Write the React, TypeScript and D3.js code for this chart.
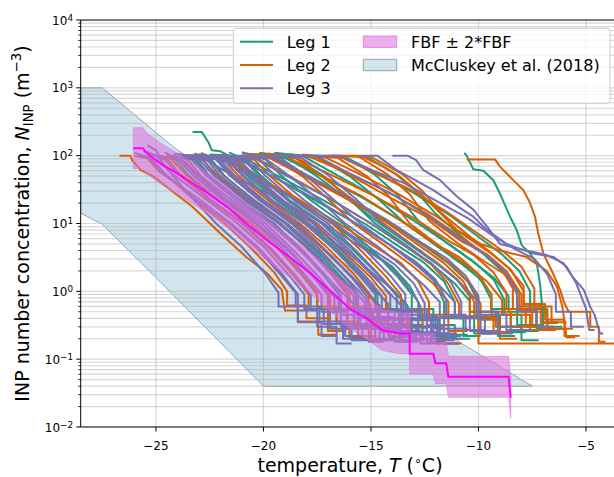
import React from "react";
import * as d3 from "d3";

type Pt = [number, number];

// ---------- axis ticks ----------
const xTickValues = [-25, -20, -15, -10, -5];
const yDecades = [-2, -1, 0, 1, 2, 3, 4];

// ---------- McCluskey et al. (2018) envelope (T, N) ----------
const mccluskeyBand: Pt[] = [
  [-28.5, 1000], [-27.5, 1000], [-24.2, 135], [-10.72, 0.166], [-7.5, 0.04],
  [-20.0, 0.04], [-24.8, 1.38], [-27.5, 9.8], [-28.5, 14.2],
];

// ---------- FBF mean spectrum ----------
const fbfTemps = [-26.05, -25.6, -25.5, -24.8, -23.9, -22.8, -21.7, -20.8, -19.85, -18.6, -17.68, -16.75, -16.0, -15.2, -14.5, -13.65, -13.2, -13.2, -12.1, -12.0, -11.5, -11.4, -8.6, -8.5];
const fbfValues = [129, 129, 114, 77, 52, 31, 17.6, 10, 5.7, 2.9, 1.7, 0.93, 0.56, 0.4, 0.27, 0.24, 0.24, 0.12, 0.12, 0.087, 0.087, 0.055, 0.055, 0.027];

// ---------- Leg 1 spectra ----------
const leg1Curves: Pt[][] = [
  [[-24.8,100],[-24.1,88],[-23.5,52],[-22.1,22],[-20.6,10],[-19.3,4.2],[-18.2,1.7],[-17.5,0.9],[-17.5,0.55],[-16.6,0.55],[-16.6,0.33],[-15.6,0.33],[-15.6,0.2],[-14.9,0.2]],
  [[-23.2,108],[-22.4,86],[-21.8,50],[-20.4,21],[-18.9,10],[-17.6,4.1],[-16.4,1.65],[-15.7,0.9],[-15.7,0.5],[-14.7,0.5],[-14.7,0.3],[-13.7,0.3],[-13.7,0.19],[-13.0,0.19]],
  [[-22.2,100],[-21.5,88],[-20.8,52],[-19.4,22],[-17.9,10],[-16.6,4.2],[-15.4,1.7],[-14.7,0.9],[-14.7,0.55],[-13.7,0.55],[-13.7,0.32],[-12.6,0.32],[-12.6,0.2],[-11.9,0.2]],
  [[-23.9,95],[-23.2,88],[-22.6,52],[-21.1,22],[-19.6,10],[-18.3,4.2],[-17.2,1.7],[-16.5,0.9],[-16.5,0.55],[-15.6,0.55],[-15.6,0.33],[-14.6,0.33],[-14.6,0.2],[-13.9,0.2]],
  [[-20.6,100],[-19.9,88],[-19.2,52],[-17.8,22],[-16.3,10],[-15.0,4.2],[-13.8,1.7],[-13.1,0.9],[-13.1,0.55],[-12.1,0.55],[-12.1,0.32],[-11.1,0.32],[-11.1,0.2],[-10.4,0.2]],
  [[-21.6,112],[-20.8,86],[-20.1,50],[-18.7,21],[-17.2,10],[-15.9,4.3],[-14.7,1.8],[-13.9,1.0],[-13.3,0.62],[-13.3,0.38],[-11.9,0.38],[-11.9,0.23],[-10.5,0.23]],
  [[-23.3,224],[-22.87,224],[-22.56,158],[-22.4,120],[-22.0,116],[-21.5,95],[-20.3,50],[-18.5,22],[-16.8,10],[-15.2,4.3],[-14.0,2.3],[-13.2,1.2],[-12.7,0.6],[-12.7,0.38],[-11.8,0.38],[-11.8,0.21],[-11.0,0.21]],
  [[-22.5,104],[-21.5,100],[-19.6,50],[-17.6,22],[-15.7,10],[-14.2,5],[-13.0,2.8],[-12.1,1.5],[-11.6,0.7],[-11.6,0.4],[-10.7,0.4],[-10.7,0.22],[-9.9,0.22]],
  [[-21.0,100],[-19.5,96],[-17.9,50],[-16.0,23],[-14.1,10],[-12.5,4.6],[-11.4,2.6],[-10.5,1.4],[-10.0,0.7],[-10.0,0.4],[-9.1,0.4],[-9.1,0.22],[-8.3,0.22]],
  [[-19.5,110],[-18.2,100],[-16.6,52],[-14.7,24],[-12.9,10.5],[-11.3,4.8],[-10.2,2.7],[-9.3,1.5],[-8.8,0.75],[-8.8,0.45],[-8.0,0.45],[-8.0,0.26],[-7.2,0.26]],
  [[-22.0,100],[-20.9,92],[-19.2,48],[-17.2,22],[-15.3,10],[-13.7,4.6],[-12.5,2.6],[-11.6,1.4],[-11.1,0.7],[-11.1,0.42],[-10.2,0.42],[-10.2,0.24],[-9.4,0.24]],
  [[-20.5,100],[-19.0,92],[-17.3,50],[-15.4,24],[-13.5,10.5],[-11.9,4.8],[-10.8,2.7],[-9.9,1.5],[-9.4,0.75],[-9.4,0.45],[-8.5,0.45],[-8.5,0.26],[-7.7,0.26]],
  [[-19.8,100],[-18.5,92],[-17.2,50],[-16.0,23],[-14.8,10],[-13.3,4.6],[-12.1,2.4],[-11.1,1.3],[-10.4,0.72],[-10.4,0.43],[-9.0,0.43],[-9.0,0.25],[-7.8,0.25]],
  [[-18.8,105],[-17.5,95],[-16.0,50],[-14.6,22],[-13.4,10],[-12.0,4.8],[-10.9,2.7],[-10.0,1.6],[-9.4,0.9],[-9.4,0.55],[-8.2,0.55],[-8.2,0.32],[-7.0,0.32]],
  [[-20.2,110],[-19.0,98],[-17.6,52],[-16.0,22],[-14.5,9.5],[-13.0,4.4],[-11.9,2.5],[-11.0,1.5],[-10.4,0.85],[-10.4,0.5],[-9.1,0.5],[-9.1,0.3],[-8.0,0.3],[-8.0,0.19],[-7.2,0.19]],
  [[-17.6,100],[-16.2,96],[-14.8,52],[-13.8,27],[-12.8,11],[-11.4,5],[-10.3,2.8],[-9.3,1.6],[-8.6,0.85],[-8.6,0.5],[-7.3,0.5],[-7.3,0.28],[-6.0,0.28]],
  [[-16.5,100],[-15.2,96],[-13.9,55],[-12.9,30],[-12.0,14],[-10.8,6.5],[-9.8,3.6],[-8.9,2.0],[-8.2,1.1],[-8.2,0.6],[-7.0,0.6],[-7.0,0.35],[-6.3,0.35]],
  [[-17.5,95],[-16.2,95],[-14.7,55],[-13.0,28],[-11.3,13],[-9.9,6.0],[-8.9,3.5],[-8.1,2.0],[-7.6,1.0],[-7.6,0.55],[-6.8,0.55],[-6.8,0.3],[-6.1,0.3]],
  [[-10.66,110],[-10.55,100],[-10.24,63],[-9.77,60],[-9.3,43],[-9.0,27.5],[-8.53,12.6],[-8.22,8],[-7.99,4.8],[-7.6,3.6],[-7.29,2.6],[-7.14,1.3],[-7.05,0.66],[-6.98,0.27],[-6.6,0.27]],
];

// ---------- Leg 2 spectra ----------
const leg2Curves: Pt[][] = [
  [[-26.7,100],[-26.2,100],[-26.1,85],[-25.7,61],[-25.1,49],[-24.3,31],[-23.3,17.7],[-22.0,7.1],[-20.8,3.2],[-20.2,2.3],[-19.8,1.8],[-19.15,1.05],[-19.0,0.52],[-18.4,0.52],[-18.4,0.36],[-17.45,0.36],[-17.45,0.23],[-16.6,0.23]],
  [[-26.0,100],[-25.4,92],[-24.9,60],[-24.2,42],[-23.2,22],[-21.8,10],[-20.6,4.4],[-19.5,1.9],[-18.9,1.0],[-18.9,0.62],[-18.0,0.62],[-18.0,0.4],[-17.0,0.4],[-17.0,0.26],[-16.2,0.26]],
  [[-25.2,105],[-24.6,88],[-24.0,55],[-22.5,22],[-21.0,10],[-19.7,4.2],[-18.6,1.7],[-17.9,0.9],[-17.9,0.55],[-17.0,0.55],[-17.0,0.33],[-16.0,0.33],[-16.0,0.21],[-15.3,0.21]],
  [[-24.4,100],[-23.6,80],[-23.0,50],[-21.6,21],[-20.1,10],[-18.8,4.0],[-17.6,1.6],[-16.9,0.85],[-16.9,0.5],[-16.1,0.5],[-16.1,0.3],[-15.0,0.3],[-15.0,0.19],[-14.3,0.19]],
  [[-23.6,100],[-22.8,85],[-22.1,50],[-20.6,21],[-19.2,10],[-17.9,4.1],[-16.7,1.7],[-16.0,0.9],[-16.0,0.6],[-15.1,0.6],[-15.1,0.36],[-14.2,0.36],[-14.2,0.22],[-13.4,0.22]],
  [[-22.6,96],[-21.9,90],[-21.2,52],[-19.8,22],[-18.3,10],[-17.0,4.3],[-15.8,1.8],[-15.1,0.95],[-15.1,0.55],[-14.2,0.55],[-14.2,0.33],[-13.1,0.33],[-13.1,0.2],[-12.5,0.2]],
  [[-22.0,100],[-21.2,85],[-20.5,48],[-19.1,21],[-17.6,10],[-16.3,4.0],[-15.0,1.6],[-14.3,0.85],[-14.3,0.5],[-13.3,0.5],[-13.3,0.3],[-12.2,0.3],[-12.2,0.18],[-11.6,0.18]],
  [[-25.0,100],[-24.3,90],[-23.6,52],[-22.1,22],[-20.6,10],[-19.3,4.3],[-18.2,1.8],[-17.5,0.95],[-17.5,0.6],[-16.6,0.6],[-16.6,0.36],[-15.6,0.36],[-15.6,0.22],[-14.8,0.22]],
  [[-23.0,106],[-22.2,88],[-21.5,52],[-20.1,22],[-18.6,10],[-17.3,4.4],[-16.1,1.9],[-15.3,1.05],[-14.7,0.62],[-14.7,0.38],[-13.3,0.38],[-13.3,0.24],[-11.9,0.24],[-11.9,0.17],[-10.8,0.17]],
  [[-21.2,100],[-20.4,86],[-19.7,50],[-18.3,21],[-16.8,10],[-15.5,4.1],[-14.3,1.65],[-13.6,0.88],[-13.6,0.52],[-12.6,0.52],[-12.6,0.3],[-11.6,0.3],[-11.6,0.17],[-10.9,0.17]],
  [[-23.5,100],[-22.0,100],[-20.5,52],[-18.5,24],[-16.5,10],[-14.8,4.5],[-13.6,2.6],[-12.8,1.4],[-12.3,0.7],[-12.3,0.45],[-11.4,0.45],[-11.4,0.26],[-10.5,0.26]],
  [[-22.3,100],[-20.5,98],[-18.8,50],[-17.0,24],[-15.0,10],[-13.3,4.4],[-12.2,2.5],[-11.4,1.3],[-10.9,0.65],[-10.9,0.4],[-10.0,0.4],[-10.0,0.17],[-3.0,0.17]],
  [[-20.5,100],[-19.4,90],[-18.2,50],[-17.0,23],[-15.8,10],[-14.3,4.6],[-13.1,2.4],[-12.1,1.3],[-11.4,0.7],[-11.4,0.43],[-10.0,0.43],[-10.0,0.25],[-8.6,0.25]],
  [[-21.0,108],[-19.0,100],[-17.5,55],[-15.5,26],[-13.6,11],[-12.0,5.0],[-10.9,3.2],[-10.0,1.8],[-9.4,0.9],[-9.4,0.5],[-8.5,0.5],[-8.5,0.3],[-7.6,0.3]],
  [[-19.5,100],[-17.6,96],[-16.0,52],[-14.2,25],[-12.3,12],[-10.8,5.5],[-9.6,3.5],[-8.7,2.0],[-8.1,1.0],[-8.1,0.55],[-7.3,0.55],[-7.3,0.3],[-6.5,0.3]],
  [[-17.0,100],[-15.5,100],[-14.43,69],[-13.65,49],[-12.56,25],[-11.6,12.6],[-11.0,8],[-9.9,5],[-9.0,4],[-7.76,3.2],[-6.83,2],[-6.36,1.2],[-6.1,0.6],[-5.9,0.21],[-5.5,0.21]],
  [[-20.0,100],[-18.7,100],[-17.0,55],[-15.0,27],[-13.0,12],[-11.4,5.6],[-10.2,3.4],[-9.3,1.9],[-8.7,0.95],[-8.7,0.55],[-7.8,0.55],[-7.8,0.3],[-7.0,0.3]],
  [[-21.5,94],[-19.8,95],[-18.0,48],[-16.0,22],[-14.2,10],[-12.7,4.6],[-11.6,2.6],[-10.7,1.4],[-10.2,0.7],[-10.2,0.42],[-9.3,0.42],[-9.3,0.25],[-8.5,0.25]],
  [[-18.5,100],[-17.2,97],[-15.6,55],[-13.8,28],[-12.0,13],[-10.5,6.2],[-9.4,3.6],[-8.5,2.1],[-7.9,1.0],[-7.9,0.6],[-7.1,0.6],[-7.1,0.34],[-6.3,0.34]],
  [[-20.8,100],[-19.5,90],[-17.7,45],[-15.7,20],[-13.8,9],[-12.3,4.3],[-11.2,2.4],[-10.4,1.3],[-9.9,0.65],[-9.9,0.38],[-9.0,0.38],[-9.0,0.2],[-8.2,0.2]],
  [[-19.8,108],[-18.6,96],[-17.3,50],[-15.8,22],[-14.4,10],[-13.0,4.6],[-11.9,2.6],[-11.0,1.5],[-10.4,0.85],[-10.4,0.5],[-9.2,0.5],[-9.2,0.3],[-8.0,0.3]],
  [[-17.8,100],[-16.3,92],[-14.8,55],[-13.2,32],[-11.5,15],[-10.0,7],[-8.9,4],[-8.0,2.3],[-7.4,1.1],[-7.4,0.6],[-6.6,0.6],[-6.6,0.35],[-5.9,0.35]],
  [[-19.2,100],[-18.0,100],[-16.3,60],[-14.3,30],[-12.4,14],[-10.9,6.5],[-9.8,3.8],[-8.9,2.1],[-8.4,1.1],[-8.4,0.55],[-7.5,0.55],[-7.5,0.3],[-6.8,0.3]],
  [[-18.2,104],[-16.6,95],[-15.2,50],[-14.2,26],[-13.2,10],[-11.8,4.6],[-10.6,2.5],[-9.6,1.4],[-8.9,0.75],[-8.9,0.45],[-7.6,0.45],[-7.6,0.27],[-6.4,0.27]],
  [[-16.8,100],[-15.0,96],[-13.6,55],[-12.6,30],[-11.7,14],[-10.5,6.8],[-9.5,3.9],[-8.6,2.2],[-7.9,1.2],[-7.9,0.65],[-6.9,0.65],[-6.9,0.38],[-6.0,0.38],[-6.0,0.22],[-5.3,0.22]],
  [[-17.3,100],[-15.6,98],[-14.2,52],[-13.2,27],[-12.3,11],[-11.0,5.2],[-9.9,3.0],[-8.8,1.8],[-8.0,0.9],[-8.0,0.5],[-6.8,0.5],[-6.8,0.28],[-5.6,0.28]],
  [[-10.55,88],[-9.23,88],[-9.0,69],[-8.38,43.6],[-7.91,31],[-7.6,20],[-7.37,12.6],[-7.22,7.1],[-6.98,3.6],[-6.52,1.8],[-6.2,1.05],[-6.0,0.66],[-5.8,0.5],[-4.8,0.5],[-4.8,0.3],[-4.4,0.3],[-4.4,0.18],[-4.1,0.18]],
];

// ---------- Leg 3 spectra ----------
const leg3Curves: Pt[][] = [
  [[-25.4,143],[-25.0,120],[-24.6,70],[-23.6,30],[-22.2,10],[-21.0,4.5],[-19.9,1.8],[-19.3,0.95],[-19.3,0.6],[-18.4,0.6],[-18.4,0.35],[-17.3,0.35],[-17.3,0.22],[-16.6,0.22]],
  [[-26.0,110],[-25.3,95],[-24.8,58],[-23.0,23],[-21.5,10],[-20.2,4.3],[-19.1,1.75],[-18.4,0.9],[-18.4,0.52],[-17.5,0.52],[-17.5,0.3],[-16.6,0.3],[-16.6,0.17],[-15.9,0.17]],
  [[-25.8,100],[-25.2,90],[-24.6,55],[-23.1,22],[-21.6,10],[-20.3,4.3],[-19.2,1.75],[-18.5,0.95],[-18.5,0.6],[-17.4,0.6],[-17.4,0.36],[-16.2,0.36],[-16.2,0.22],[-15.3,0.22]],
  [[-25.6,120],[-25.0,100],[-24.3,56],[-22.7,23],[-21.2,10],[-19.9,4.3],[-18.8,1.7],[-18.1,0.9],[-18.1,0.55],[-17.2,0.55],[-17.2,0.33],[-16.3,0.33],[-16.3,0.2],[-15.5,0.2]],
  [[-25.0,100],[-24.4,84],[-23.9,54],[-22.4,22],[-20.9,10],[-19.6,4.1],[-18.5,1.7],[-17.8,0.88],[-17.8,0.55],[-16.9,0.55],[-16.9,0.28],[-15.9,0.28],[-15.9,0.19],[-15.0,0.19]],
  [[-24.6,112],[-24.0,90],[-23.3,52],[-21.9,22],[-20.4,10],[-19.1,4.2],[-18.0,1.65],[-17.3,0.9],[-17.3,0.5],[-16.4,0.5],[-16.4,0.3],[-15.4,0.3],[-15.4,0.2],[-14.6,0.2]],
  [[-24.5,100],[-23.9,90],[-23.2,55],[-21.8,22],[-20.3,10],[-19.0,4.4],[-17.8,1.9],[-17.0,1.0],[-16.4,0.7],[-16.4,0.45],[-15.0,0.45],[-15.0,0.28],[-13.6,0.28],[-13.6,0.18],[-12.8,0.18]],
  [[-24.5,100],[-23.8,88],[-23.1,50],[-21.6,21],[-20.1,10],[-18.8,4.1],[-17.7,1.65],[-17.0,0.88],[-17.0,0.5],[-16.1,0.5],[-16.1,0.28],[-15.1,0.28],[-15.1,0.18],[-14.4,0.18]],
  [[-24.2,100],[-23.5,86],[-22.9,50],[-21.4,21],[-19.9,10],[-18.6,4.0],[-17.4,1.6],[-16.7,0.85],[-16.7,0.52],[-15.8,0.52],[-15.8,0.31],[-14.8,0.31],[-14.8,0.2],[-14.1,0.2]],
  [[-24.0,108],[-23.3,85],[-22.7,52],[-21.2,21],[-19.7,10],[-18.4,4.3],[-17.2,1.8],[-16.4,1.0],[-15.8,0.65],[-15.8,0.4],[-14.5,0.4],[-14.5,0.25],[-12.9,0.25]],
  [[-23.8,100],[-23.1,88],[-22.5,50],[-21.0,21],[-19.5,10],[-18.2,4.1],[-17.1,1.7],[-16.4,0.9],[-16.4,0.55],[-15.5,0.55],[-15.5,0.32],[-14.4,0.32],[-14.4,0.19],[-13.7,0.19]],
  [[-23.7,96],[-23.0,88],[-22.3,51],[-20.8,21],[-19.3,10],[-18.0,4.5],[-16.8,2.0],[-15.9,1.1],[-15.3,0.7],[-15.3,0.42],[-14.0,0.42],[-14.0,0.26],[-12.7,0.26],[-12.7,0.17],[-11.8,0.17]],
  [[-23.5,100],[-22.8,87],[-22.2,50],[-20.7,21],[-19.2,10],[-17.9,4.2],[-16.8,1.7],[-16.1,0.9],[-16.1,0.56],[-15.2,0.56],[-15.2,0.33],[-14.1,0.33],[-14.1,0.21],[-13.3,0.21]],
  [[-23.3,104],[-22.6,85],[-22.0,50],[-20.5,21],[-19.0,10],[-17.7,4.0],[-16.5,1.6],[-15.8,0.85],[-15.8,0.5],[-14.9,0.5],[-14.9,0.3],[-13.9,0.3],[-13.9,0.18],[-13.1,0.18]],
  [[-23.2,100],[-22.5,86],[-21.9,52],[-20.4,22],[-18.9,10],[-17.6,4.4],[-16.4,1.9],[-15.6,1.05],[-15.0,0.62],[-15.0,0.38],[-13.6,0.38],[-13.6,0.23],[-12.2,0.23]],
  [[-23.0,100],[-22.2,88],[-21.6,52],[-20.2,22],[-18.7,10],[-17.4,4.2],[-16.3,1.75],[-15.6,0.92],[-15.6,0.55],[-14.6,0.55],[-14.6,0.33],[-13.6,0.33],[-13.6,0.21],[-12.9,0.21]],
  [[-22.9,110],[-22.1,85],[-21.4,50],[-20.0,21],[-18.5,10],[-17.2,4.3],[-16.0,1.8],[-15.2,1.0],[-14.6,0.62],[-14.6,0.4],[-13.2,0.4],[-13.2,0.25],[-11.9,0.25],[-11.9,0.17],[-11.0,0.17]],
  [[-22.8,100],[-22.0,86],[-21.3,50],[-19.9,21],[-18.4,10],[-17.1,4.0],[-15.9,1.6],[-15.2,0.85],[-15.2,0.5],[-14.2,0.5],[-14.2,0.3],[-13.2,0.3],[-13.2,0.19],[-12.5,0.19]],
  [[-22.5,100],[-21.7,86],[-21.0,51],[-19.6,21],[-18.1,10],[-16.8,4.4],[-15.6,1.9],[-14.8,1.05],[-14.2,0.65],[-14.2,0.4],[-12.8,0.4],[-12.8,0.24],[-11.4,0.24]],
  [[-22.4,95],[-21.6,85],[-20.9,50],[-19.5,21],[-18.0,10],[-16.7,4.1],[-15.5,1.65],[-14.8,0.9],[-14.8,0.52],[-13.9,0.52],[-13.9,0.31],[-12.9,0.31],[-12.9,0.2],[-12.1,0.2]],
  [[-22.8,100],[-21.6,90],[-20.4,48],[-19.1,22],[-17.9,10],[-16.4,4.5],[-15.2,2.2],[-14.2,1.2],[-13.5,0.7],[-13.5,0.45],[-12.0,0.45],[-12.0,0.28],[-10.5,0.28]],
  [[-22.1,100],[-21.3,84],[-20.6,50],[-19.2,21],[-17.7,10],[-16.4,4.0],[-15.2,1.6],[-14.5,0.85],[-14.5,0.5],[-13.5,0.5],[-13.5,0.29],[-12.4,0.29],[-12.4,0.18],[-11.7,0.18]],
  [[-21.9,106],[-21.1,85],[-20.4,50],[-19.0,21],[-17.5,10],[-16.2,4.3],[-15.0,1.8],[-14.2,1.0],[-13.6,0.62],[-13.6,0.38],[-12.2,0.38],[-12.2,0.22],[-10.8,0.22]],
  [[-21.7,100],[-20.9,86],[-20.2,50],[-18.8,21],[-17.3,10],[-16.0,4.1],[-14.8,1.65],[-14.1,0.88],[-14.1,0.52],[-13.1,0.52],[-13.1,0.3],[-12.1,0.3],[-12.1,0.2],[-11.4,0.2]],
  [[-21.4,100],[-20.6,85],[-19.9,50],[-18.5,21],[-17.0,10],[-15.7,4.0],[-14.5,1.6],[-13.8,0.85],[-13.8,0.5],[-12.8,0.5],[-12.8,0.3],[-11.8,0.3],[-11.8,0.19],[-11.1,0.19]],
  [[-21.0,100],[-20.2,88],[-19.5,52],[-18.1,22],[-16.6,10],[-15.3,4.2],[-14.1,1.7],[-13.4,0.9],[-13.4,0.55],[-12.4,0.55],[-12.4,0.32],[-11.4,0.32],[-11.4,0.2],[-10.7,0.2]],
  [[-21.0,112],[-19.9,90],[-18.7,48],[-17.4,22],[-16.2,10],[-14.7,4.6],[-13.5,2.3],[-12.5,1.2],[-11.8,0.7],[-11.8,0.42],[-10.4,0.42],[-10.4,0.26],[-9.0,0.26]],
  [[-20.4,100],[-19.2,92],[-18.0,50],[-16.7,22],[-15.5,10],[-14.0,4.5],[-12.8,2.3],[-11.8,1.2],[-11.1,0.7],[-11.1,0.4],[-9.7,0.4],[-9.7,0.24],[-8.4,0.24]],
  [[-19.5,100],[-18.3,95],[-17.0,52],[-15.7,23],[-14.5,10],[-13.0,4.6],[-11.8,2.4],[-10.8,1.3],[-10.1,0.75],[-10.1,0.45],[-8.7,0.45],[-8.7,0.27],[-7.5,0.27]],
  [[-24.2,105],[-23.0,100],[-21.4,50],[-19.2,22],[-17.2,10],[-15.5,4.6],[-14.2,2.5],[-13.4,1.3],[-12.8,0.7],[-12.8,0.42],[-11.9,0.42],[-11.9,0.24],[-11.0,0.24]],
  [[-23.0,100],[-21.3,98],[-19.7,52],[-17.7,24],[-15.8,10.5],[-14.1,4.8],[-12.9,2.7],[-12.0,1.5],[-11.5,0.75],[-11.5,0.45],[-10.6,0.45],[-10.6,0.27],[-9.7,0.27]],
  [[-22.0,100],[-19.8,100],[-18.2,56],[-16.3,27],[-14.3,11.5],[-12.7,5.3],[-11.5,3.1],[-10.6,1.7],[-10.0,0.85],[-10.0,0.5],[-9.1,0.5],[-9.1,0.3],[-8.2,0.3]],
  [[-20.5,100],[-16.5,100],[-15.0,62],[-13.5,40],[-12.0,22],[-10.5,12],[-9.3,6.5],[-8.3,4.2],[-7.4,3.0],[-6.8,1.8],[-6.4,0.9],[-6.4,0.5],[-5.7,0.5],[-5.7,0.3],[-5.1,0.3]],
  [[-22.5,100],[-20.5,95],[-18.9,50],[-16.9,23],[-15.0,10],[-13.4,4.6],[-12.2,2.6],[-11.3,1.4],[-10.8,0.7],[-10.8,0.42],[-9.9,0.42],[-9.9,0.24],[-9.1,0.24]],
  [[-19.0,100],[-17.5,98],[-16.0,55],[-14.0,27],[-12.2,12],[-10.7,5.6],[-9.6,3.3],[-8.7,1.9],[-8.2,0.9],[-8.2,0.52],[-7.3,0.52],[-7.3,0.3],[-6.5,0.3]],
  [[-23.5,100],[-22.2,96],[-20.6,50],[-18.6,23],[-16.7,10],[-15.1,4.5],[-13.9,2.5],[-13.0,1.3],[-12.5,0.66],[-12.5,0.4],[-11.6,0.4],[-11.6,0.22],[-10.8,0.22]],
  [[-15.5,100],[-14.7,100],[-13.8,61],[-12.9,43],[-12.1,31],[-11.2,20],[-10.24,12.6],[-9.6,8],[-8.7,5],[-7.45,3.6],[-6.5,3.2],[-5.9,2.3],[-5.45,1.3],[-5.0,0.56],[-4.85,0.27],[-4.6,0.27]],
  [[-14.0,100],[-13.3,100],[-12.9,86],[-12.56,61],[-11.8,44],[-11.0,25],[-10.24,16],[-9.6,9],[-9.0,5],[-8.2,4.3],[-7.45,3.8],[-6.8,3.4],[-6.05,2.6],[-5.6,1.6],[-5.1,1.05],[-4.8,0.59],[-4.6,0.45],[-4.35,0.24],[-4.2,0.24]],
];

const legColors = ["#1b9e77", "#d95f02", "#7570b3"];
const legLabels = ["Leg 1", "Leg 2", "Leg 3"];
const patchLabels = ["FBF \u00b1 2*FBF", "McCluskey et al. (2018)"];

const FONT = "DejaVu Sans, sans-serif";

export default function App() {
  const left = 80.7, right = 619.3, top = 20, bottom = 427;
  const x = d3.scaleLinear().domain([-28.5, -3.45]).range([left, right]);
  const y = d3.scaleLog().domain([1e-2, 1e4]).range([bottom, top]);
  const line = d3.line<Pt>().x((d) => x(d[0])).y((d) => y(d[1]));
  const fbfPts: Pt[] = fbfTemps.map((t, i) => [t, fbfValues[i]]);
  const band = d3
    .area<Pt>()
    .x((d) => x(d[0]))
    .y0((d) => y(d[1] / 2))
    .y1((d) => y(d[1] * 2));
  const poly = "M" + mccluskeyBand.map((d) => `${x(d[0])},${y(d[1])}`).join("L") + "Z";

  const minor: number[] = [];
  for (const e of yDecades.slice(0, -1)) {
    for (let k = 2; k <= 9; k++) minor.push(k * Math.pow(10, e));
  }
  const majors = yDecades.map((e) => Math.pow(10, e));

  const bandFill = "rgb(222,110,222)";
  const blueFill = "rgb(176,211,227)";

  return (
    <svg
      width={614}
      height={477}
      style={{ position: "absolute", left: 0, top: 0, display: "block" }}
      fontFamily={FONT}
    >
      <defs>
        <clipPath id="plotclip">
          <rect x={left} y={top} width={right - left} height={bottom - top} />
        </clipPath>
      </defs>
      <rect x={0} y={0} width={614} height={477} fill="white" />
      <g clipPath="url(#plotclip)">
        <path d={poly} fill={blueFill} fillOpacity={0.6} stroke="#98a4aa" strokeWidth={1} />
        {minor.concat(majors).map((v, i) => (
          <line key={"h" + i} x1={left} x2={right} y1={y(v)} y2={y(v)} stroke="#b0b0b0" strokeOpacity={0.5} strokeWidth={1.2} />
        ))}
        {xTickValues.map((t) => (
          <line key={"v" + t} x1={x(t)} x2={x(t)} y1={top} y2={bottom} stroke="#b0b0b0" strokeOpacity={0.5} strokeWidth={1.2} />
        ))}
        {[leg1Curves, leg2Curves, leg3Curves].map((curves, li) => (
          <g key={"leg" + li}>
            {curves.map((c, ci) => (
              <path key={ci} d={line(c) || ""} fill="none" stroke={legColors[li]} strokeWidth={2} strokeLinejoin="round" />
            ))}
          </g>
        ))}
        <path d={band(fbfPts) || ""} fill={bandFill} fillOpacity={0.55} stroke={bandFill} strokeOpacity={0.55} strokeWidth={1} />
        <path d={line(fbfPts) || ""} fill="none" stroke="#ff00ff" strokeWidth={2} />
      </g>

      <line x1={left} x2={left} y1={top} y2={bottom} stroke="black" strokeWidth={1} />
      <line x1={left} x2={right} y1={bottom} y2={bottom} stroke="black" strokeWidth={1} />
      <line x1={left} x2={right} y1={top} y2={top} stroke="black" strokeWidth={1} />

      {xTickValues.map((t) => (
        <g key={"xt" + t}>
          <line x1={x(t)} x2={x(t)} y1={bottom} y2={bottom + 4.5} stroke="black" strokeWidth={1} />
          <text x={x(t)} y={450.2} fontSize={12} textAnchor="middle" fill="#000">
            {t < 0 ? "\u2212" + Math.abs(t) : String(t)}
          </text>
        </g>
      ))}

      {minor.map((v, i) => (
        <line key={"ym" + i} x1={left - 2.5} x2={left} y1={y(v)} y2={y(v)} stroke="black" strokeWidth={0.8} />
      ))}
      {yDecades.map((e) => (
        <g key={"yt" + e}>
          <line x1={left - 4.5} x2={left} y1={y(Math.pow(10, e))} y2={y(Math.pow(10, e))} stroke="black" strokeWidth={1} />
          <text x={73} y={y(Math.pow(10, e)) + 4.6} fontSize={12} textAnchor="end" fill="#000">
            <tspan>10</tspan>
            <tspan fontSize={8.8} dy={-4}>{e < 0 ? "\u2212" + Math.abs(e) : String(e)}</tspan>
          </text>
        </g>
      ))}

      <text x={350} y={472} fontSize={19} textAnchor="middle" fill="#000">
        <tspan>temperature, </tspan>
        <tspan fontStyle="italic">T</tspan>
        <tspan> (</tspan>
        <tspan fontSize={12.5} dy={-7}>{"\u2218"}</tspan>
        <tspan dy={7}>C)</tspan>
      </text>
      <text transform={`translate(28.5,${(top + bottom) / 2}) rotate(-90)`} fontSize={19} textAnchor="middle" fill="#000">
        <tspan>INP number concentration, </tspan>
        <tspan fontStyle="italic">N</tspan>
        <tspan fontSize={13.3} dy={4}>INP</tspan>
        <tspan dy={-4}> (m</tspan>
        <tspan fontSize={13.3} dy={-7.5}>{"\u22123"}</tspan>
        <tspan dy={7.5}>)</tspan>
      </text>

      <g>
        <rect x={233.3} y={28.3} width={376.7} height={75} rx={3} fill="white" fillOpacity={0.8} stroke="#cccccc" strokeWidth={1} />
        {legLabels.map((lab, i) => (
          <g key={lab}>
            <line x1={240} x2={273} y1={41.7 + i * 23.3} y2={41.7 + i * 23.3} stroke={legColors[i]} strokeWidth={2} />
            <text x={286.7} y={41.7 + i * 23.3 + 5.8} fontSize={16} fill="#000">{lab}</text>
          </g>
        ))}
        <rect x={363.3} y={36} width={33.4} height={11.4} fill={bandFill} fillOpacity={0.55} stroke={bandFill} strokeOpacity={0.7} strokeWidth={1} />
        <rect x={363.3} y={59.3} width={33.4} height={11.4} fill={blueFill} fillOpacity={0.6} stroke="#98a4aa" strokeWidth={1} />
        {patchLabels.map((lab, i) => (
          <text key={lab} x={411} y={41.7 + i * 23.3 + 5.8} fontSize={16} fill="#000">{lab}</text>
        ))}
      </g>
    </svg>
  );
}
